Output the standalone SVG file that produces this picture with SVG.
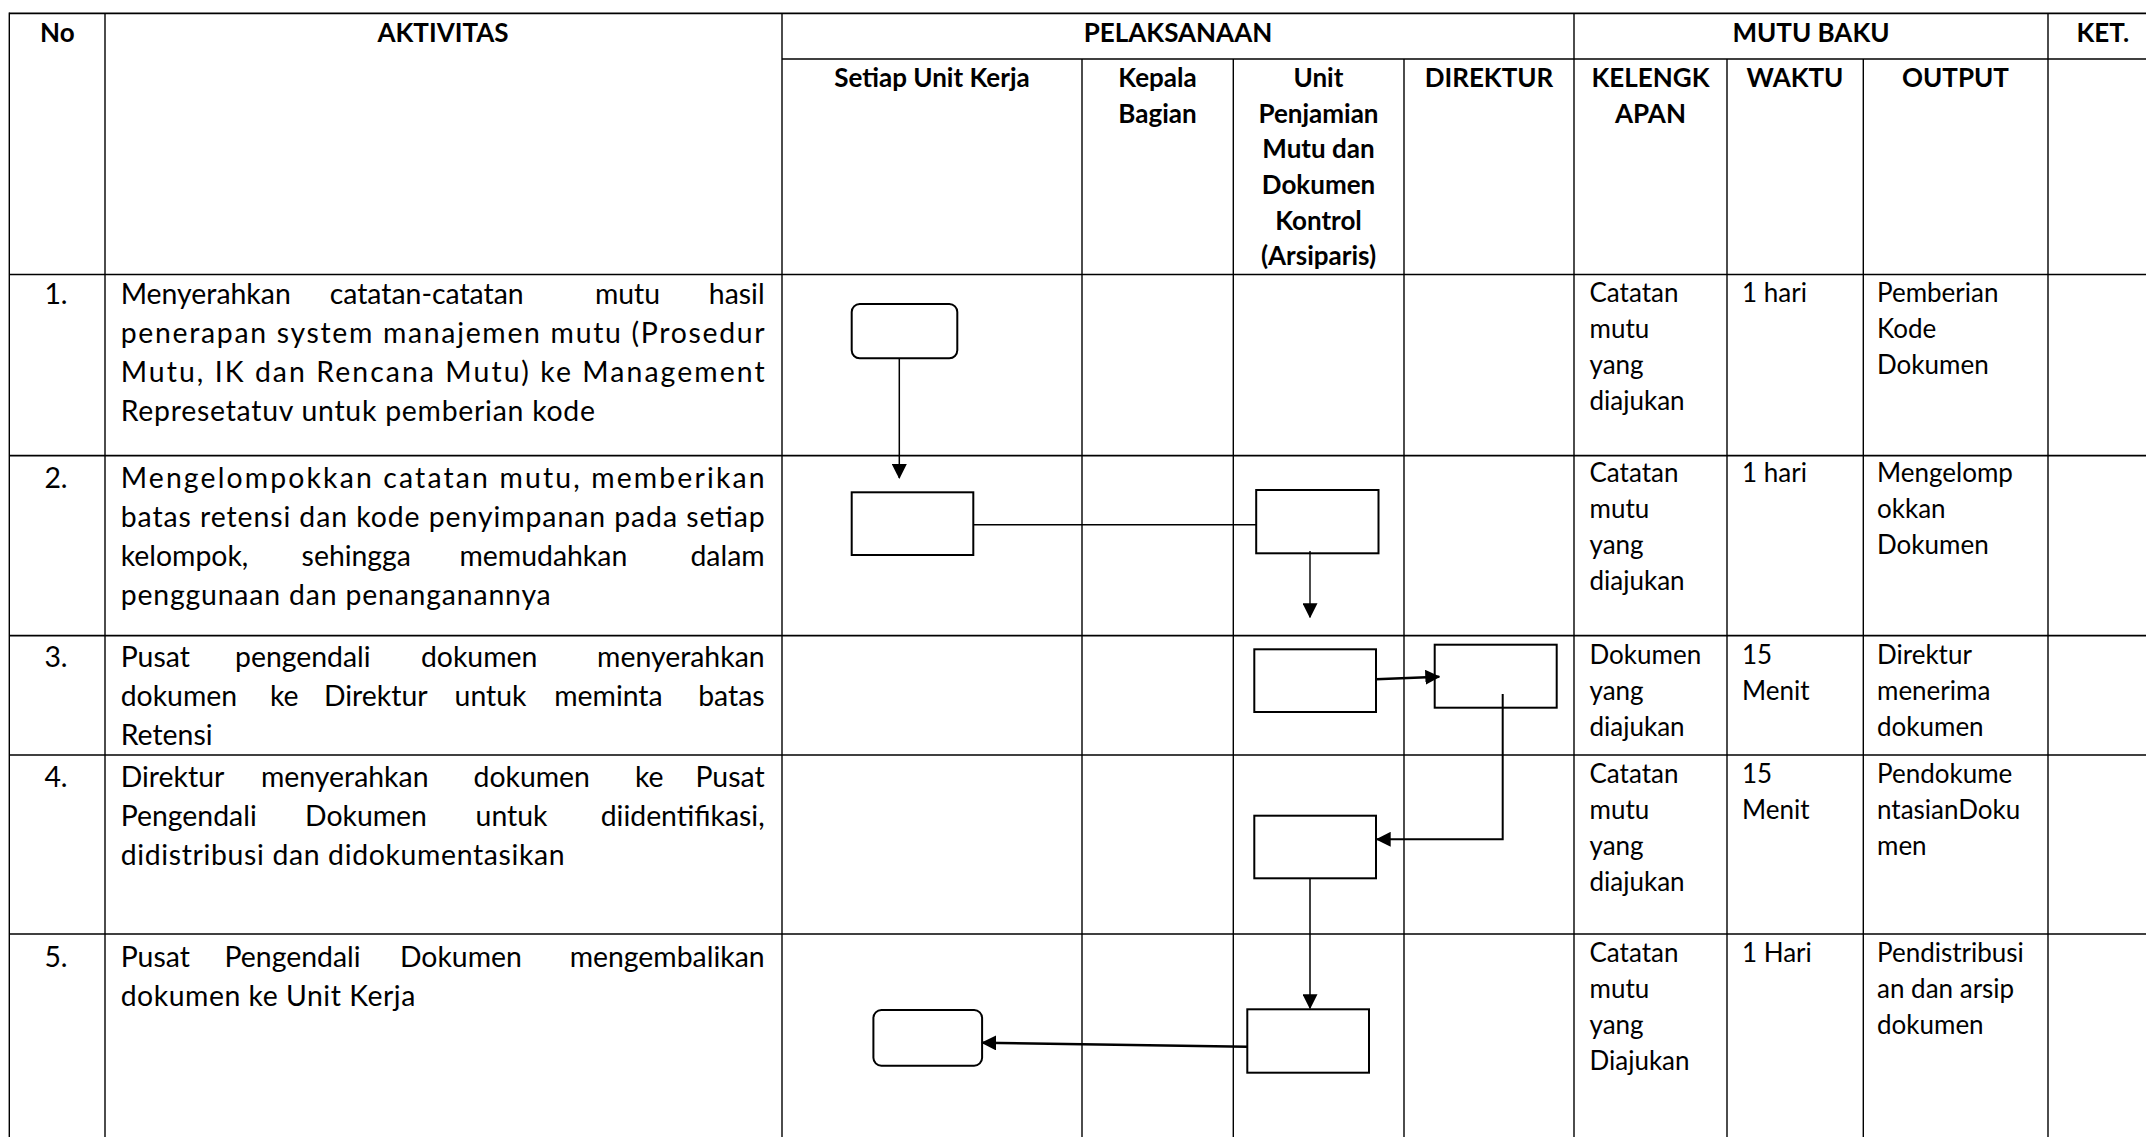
<svg xmlns="http://www.w3.org/2000/svg" width="2146" height="1137" viewBox="0 0 2146 1137">
<style>
.t{font-family:Lato,"Open Sans","Liberation Sans",sans-serif;font-size:26px;fill:#000}
.a{font-size:28.4px}
.b{font-weight:bold;text-anchor:middle}
.m{text-anchor:middle}
.e{text-anchor:end}
.h{stroke:#000;stroke-width:1.7;fill:none}
.v{stroke:#000;stroke-width:1.4;fill:none}
.node{fill:#fff;stroke:#000;stroke-width:2}
.con{fill:none;stroke:#000}
</style>
<defs>
<marker id="arr" viewBox="0 0 15 15" refX="14" refY="7.5" markerWidth="15" markerHeight="15" markerUnits="userSpaceOnUse" orient="auto">
<path d="M0,0 L15,7.5 L0,15 z" fill="#000"/>
</marker>
</defs>
<rect width="2146" height="1137" fill="#fff"/>
<g id="grid">
<line class="h" x1="9.3" y1="13.3" x2="2146" y2="13.3"/>
<line class="h" x1="782" y1="59" x2="2146" y2="59"/>
<line class="h" x1="9.3" y1="274.5" x2="2146" y2="274.5"/>
<line class="h" x1="9.3" y1="455.7" x2="2146" y2="455.7"/>
<line class="h" x1="9.3" y1="635.7" x2="2146" y2="635.7"/>
<line class="h" x1="9.3" y1="755" x2="2146" y2="755"/>
<line class="h" x1="9.3" y1="934" x2="2146" y2="934"/>
<line class="v" x1="9.3" y1="12.5" x2="9.3" y2="1137"/>
<line class="v" x1="105" y1="13.3" x2="105" y2="1137"/>
<line class="v" x1="782" y1="13.3" x2="782" y2="1137"/>
<line class="v" x1="1082" y1="59" x2="1082" y2="1137"/>
<line class="v" x1="1233.3" y1="59" x2="1233.3" y2="1137"/>
<line class="v" x1="1404" y1="59" x2="1404" y2="1137"/>
<line class="v" x1="1574" y1="13.3" x2="1574" y2="1137"/>
<line class="v" x1="1727" y1="59" x2="1727" y2="1137"/>
<line class="v" x1="1863.3" y1="59" x2="1863.3" y2="1137"/>
<line class="v" x1="2048" y1="13.3" x2="2048" y2="1137"/>
</g>
<g id="header">
<text class="t b" x="57.3" y="41.7">No</text>
<text class="t b" x="443" y="41.7">AKTIVITAS</text>
<text class="t b" x="1178" y="41.7">PELAKSANAAN</text>
<text class="t b" x="1811" y="41.7">MUTU BAKU</text>
<text class="t b" x="2102.8" y="41.7">KET.</text>
<text class="t b" x="932" y="87">Setiap Unit Kerja</text>
<text class="t b" x="1157.5" y="87">Kepala</text>
<text class="t b" x="1157.5" y="122.5">Bagian</text>
<text class="t b" x="1318.5" y="87">Unit</text>
<text class="t b" x="1318.5" y="122.5">Penjamian</text>
<text class="t b" x="1318.5" y="158">Mutu dan</text>
<text class="t b" x="1318.5" y="194">Dokumen</text>
<text class="t b" x="1318.5" y="229.5">Kontrol</text>
<text class="t b" x="1318.5" y="265">(Arsiparis)</text>
<text class="t b" x="1489" y="87">DIREKTUR</text>
<text class="t b" x="1650.5" y="87">KELENGK</text>
<text class="t b" x="1650.5" y="122.5">APAN</text>
<text class="t b" x="1795" y="87">WAKTU</text>
<text class="t b" x="1955.5" y="87">OUTPUT</text>
</g>
<g id="row1">
<text class="t a m" x="56" y="304.3">1.</text>
<text class="t a" x="120.7" y="304.3">Menyerahkan</text>
<text class="t a" x="329.7" y="304.3">catatan-catatan</text>
<text class="t a" x="594.9" y="304.3">mutu</text>
<text class="t a e" x="764.6" y="304.3">hasil</text>
<text class="t a" x="120.7" y="343.3" textLength="643.9" lengthAdjust="spacing">penerapan system manajemen mutu (Prosedur</text>
<text class="t a" x="120.7" y="382.3" textLength="643.9" lengthAdjust="spacing">Mutu, IK dan Rencana Mutu) ke Management</text>
<text class="t a" x="120.7" y="421.3" textLength="474.3" lengthAdjust="spacing">Represetatuv untuk pemberian kode</text>
<text class="t" x="1589.5" y="302.3">Catatan</text>
<text class="t" x="1589.5" y="338.3">mutu</text>
<text class="t" x="1589.5" y="374.3">yang</text>
<text class="t" x="1589.5" y="410.3">diajukan</text>
<text class="t" x="1742" y="302.3">1 hari</text>
<text class="t" x="1877" y="302.3">Pemberian</text>
<text class="t" x="1877" y="338.3">Kode</text>
<text class="t" x="1877" y="374.3">Dokumen</text>
</g>
<g id="row2">
<text class="t a m" x="56" y="488.3">2.</text>
<text class="t a" x="120.7" y="488.3" textLength="643.9" lengthAdjust="spacing">Mengelompokkan catatan mutu, memberikan</text>
<text class="t a" x="120.7" y="527.3" textLength="643.9" lengthAdjust="spacing">batas retensi dan kode penyimpanan pada setiap</text>
<text class="t a" x="120.7" y="566.3">kelompok,</text>
<text class="t a" x="301.6" y="566.3">sehingga</text>
<text class="t a" x="459.5" y="566.3">memudahkan</text>
<text class="t a e" x="764.6" y="566.3">dalam</text>
<text class="t a" x="120.7" y="605.3" textLength="430" lengthAdjust="spacing">penggunaan dan penanganannya</text>
<text class="t" x="1589.5" y="482.3">Catatan</text>
<text class="t" x="1589.5" y="518.3">mutu</text>
<text class="t" x="1589.5" y="554.3">yang</text>
<text class="t" x="1589.5" y="590.3">diajukan</text>
<text class="t" x="1742" y="482.3">1 hari</text>
<text class="t" x="1877" y="482.3">Mengelomp</text>
<text class="t" x="1877" y="518.3">okkan</text>
<text class="t" x="1877" y="554.3">Dokumen</text>
</g>
<g id="row3">
<text class="t a m" x="56" y="666.7">3.</text>
<text class="t a" x="120.7" y="666.7">Pusat</text>
<text class="t a" x="235" y="666.7">pengendali</text>
<text class="t a" x="420.9" y="666.7">dokumen</text>
<text class="t a e" x="764.6" y="666.7">menyerahkan</text>
<text class="t a" x="120.7" y="705.7">dokumen</text>
<text class="t a" x="270" y="705.7">ke</text>
<text class="t a" x="324" y="705.7">Direktur</text>
<text class="t a" x="454.6" y="705.7">untuk</text>
<text class="t a" x="554.2" y="705.7">meminta</text>
<text class="t a e" x="764.6" y="705.7">batas</text>
<text class="t a" x="120.7" y="744.7">Retensi</text>
<text class="t" x="1589.5" y="664">Dokumen</text>
<text class="t" x="1589.5" y="700">yang</text>
<text class="t" x="1589.5" y="736">diajukan</text>
<text class="t" x="1742" y="664">15</text>
<text class="t" x="1742" y="700">Menit</text>
<text class="t" x="1877" y="664">Direktur</text>
<text class="t" x="1877" y="700">menerima</text>
<text class="t" x="1877" y="736">dokumen</text>
</g>
<g id="row4">
<text class="t a m" x="56" y="786.7">4.</text>
<text class="t a" x="120.7" y="786.7">Direktur</text>
<text class="t a" x="261" y="786.7">menyerahkan</text>
<text class="t a" x="473.5" y="786.7">dokumen</text>
<text class="t a" x="634.9" y="786.7">ke</text>
<text class="t a e" x="764.6" y="786.7">Pusat</text>
<text class="t a" x="120.7" y="825.7">Pengendali</text>
<text class="t a" x="305" y="825.7">Dokumen</text>
<text class="t a" x="475.6" y="825.7">untuk</text>
<text class="t a e" x="764.6" y="825.7">diidentifikasi,</text>
<text class="t a" x="120.7" y="864.7" textLength="444" lengthAdjust="spacing">didistribusi dan didokumentasikan</text>
<text class="t" x="1589.5" y="782.7">Catatan</text>
<text class="t" x="1589.5" y="818.7">mutu</text>
<text class="t" x="1589.5" y="854.7">yang</text>
<text class="t" x="1589.5" y="890.7">diajukan</text>
<text class="t" x="1742" y="782.7">15</text>
<text class="t" x="1742" y="818.7">Menit</text>
<text class="t" x="1877" y="782.7">Pendokume</text>
<text class="t" x="1877" y="818.7">ntasianDoku</text>
<text class="t" x="1877" y="854.7">men</text>
</g>
<g id="row5">
<text class="t a m" x="56" y="966.7">5.</text>
<text class="t a" x="120.7" y="966.7">Pusat</text>
<text class="t a" x="224.5" y="966.7">Pengendali</text>
<text class="t a" x="399.9" y="966.7">Dokumen</text>
<text class="t a e" x="764.6" y="966.7">mengembalikan</text>
<text class="t a" x="120.7" y="1005.7" textLength="294.6" lengthAdjust="spacing">dokumen ke Unit Kerja</text>
<text class="t" x="1589.5" y="961.7">Catatan</text>
<text class="t" x="1589.5" y="997.7">mutu</text>
<text class="t" x="1589.5" y="1033.7">yang</text>
<text class="t" x="1589.5" y="1069.7">Diajukan</text>
<text class="t" x="1742" y="961.7">1 Hari</text>
<text class="t" x="1877" y="961.7">Pendistribusi</text>
<text class="t" x="1877" y="997.7">an dan arsip</text>
<text class="t" x="1877" y="1033.7">dokumen</text>
</g>
<g id="nodes">
<g id="n1"><rect class="node" x="851.7" y="304" width="105.6" height="54.3" rx="8"/></g>
<g id="n2"><rect class="node" x="851.7" y="492.3" width="121.6" height="62.7"/></g>
<g id="n3"><rect class="node" x="1256.2" y="490" width="122.3" height="63.3"/></g>
<g id="n4"><rect class="node" x="1254.3" y="649.3" width="121.7" height="62.7"/></g>
<g id="n5"><rect class="node" x="1434.7" y="644.7" width="122" height="63"/></g>
<g id="n6"><rect class="node" x="1254.3" y="815.7" width="121.7" height="62.6"/></g>
<g id="n7"><rect class="node" x="1247.3" y="1009.3" width="121.7" height="63.4"/></g>
<g id="n8"><rect class="node" x="873.4" y="1010" width="108.7" height="55.7" rx="8"/></g>
</g>
<g id="connectors">
<line class="con" x1="899.3" y1="358.3" x2="899.3" y2="478" stroke-width="1.5" marker-end="url(#arr)"/>
<line class="con" x1="973.3" y1="524.7" x2="1256.2" y2="524.7" stroke="#555" stroke-width="1.4"/>
<line class="con" x1="1310" y1="551" x2="1310" y2="617.3" stroke-width="1.4" marker-end="url(#arr)"/>
<line class="con" x1="1376" y1="679.3" x2="1439.3" y2="676.7" stroke-width="2.5" marker-end="url(#arr)"/>
<polyline class="con" points="1502.7,694 1502.7,839.3 1376.7,839.3" stroke-width="2" marker-end="url(#arr)"/>
<line class="con" x1="1310" y1="878.3" x2="1310" y2="1008.3" stroke-width="1.5" marker-end="url(#arr)"/>
<line class="con" x1="1247.3" y1="1046.7" x2="982.1" y2="1042.7" stroke-width="2.5" marker-end="url(#arr)"/>
</g>
</svg>
